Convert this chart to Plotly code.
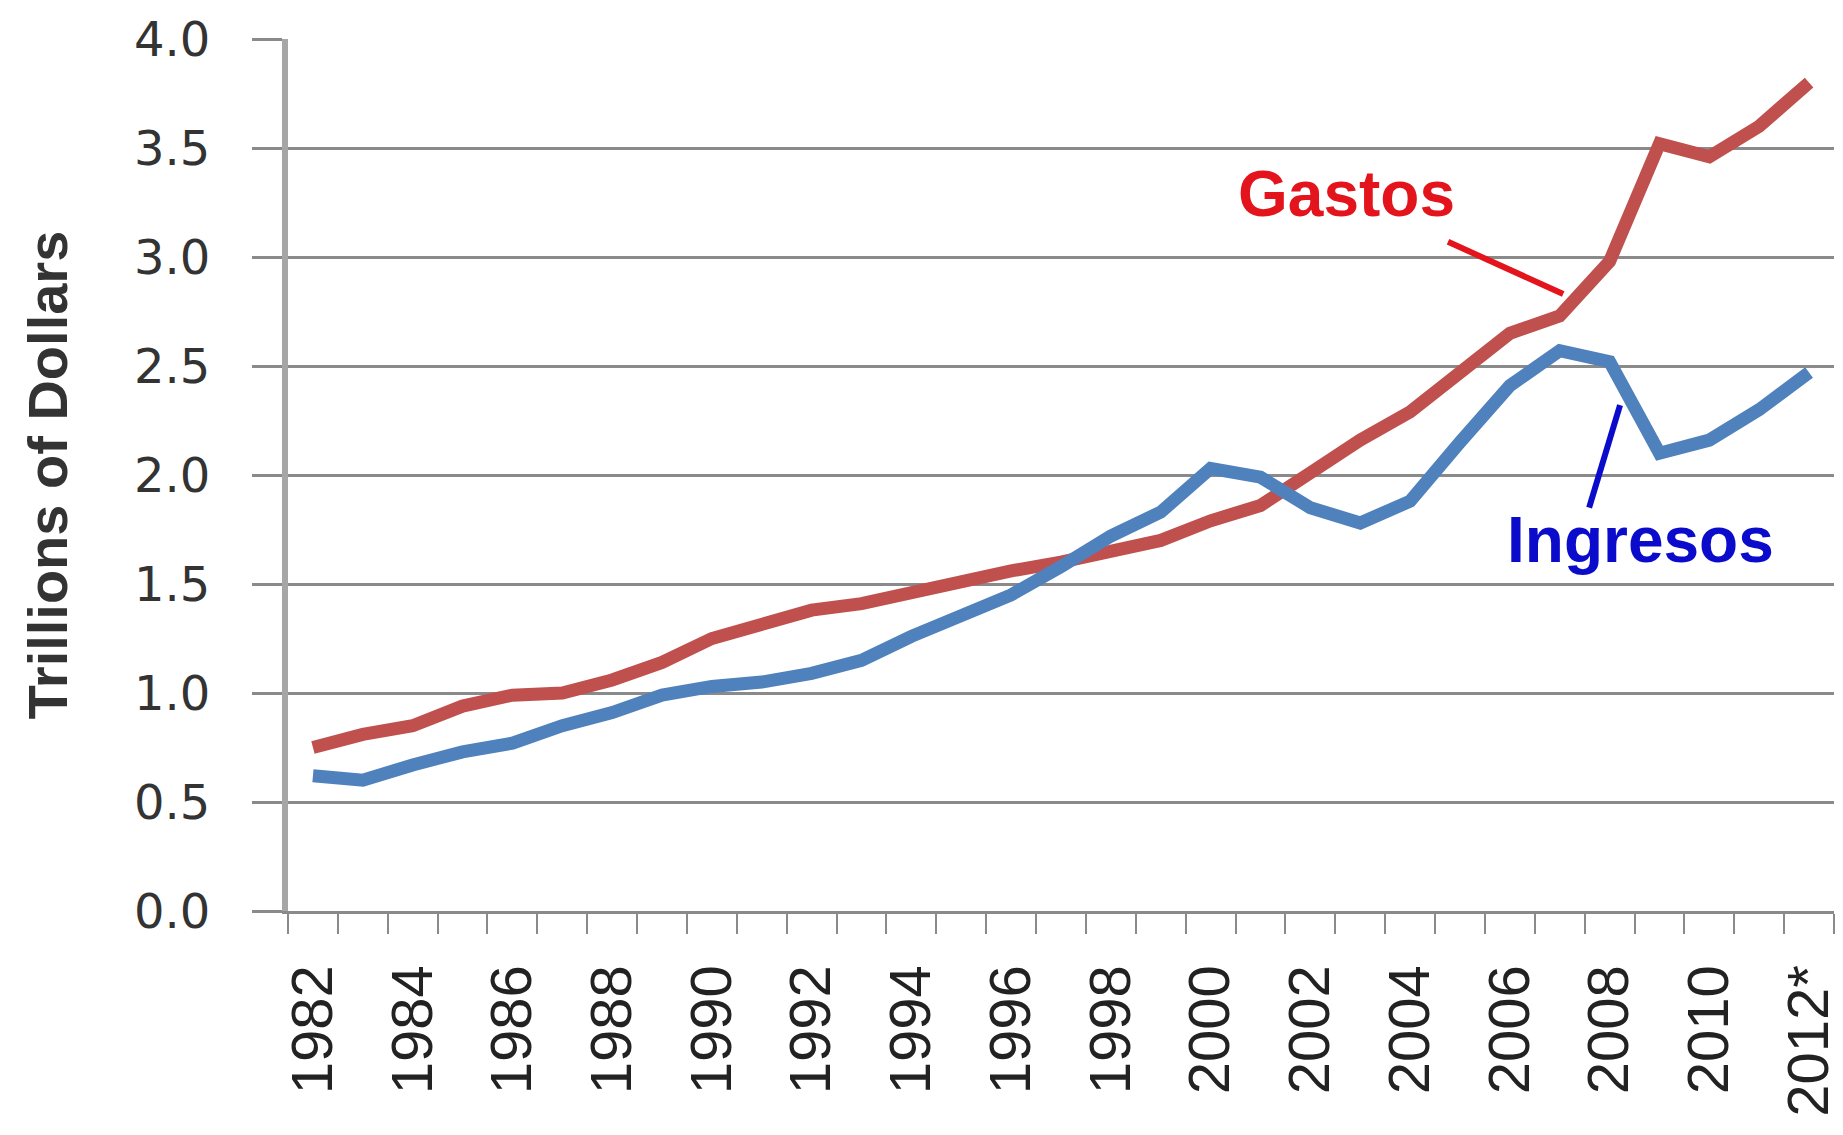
import plotly.graph_objects as go

years = list(range(1982, 2013))
gastos = [0.75, 0.81, 0.85, 0.94, 0.99, 1.00, 1.06, 1.14, 1.25, 1.32, 1.38, 1.41, 1.46, 1.52,
          1.56, 1.60, 1.65, 1.70, 1.79, 1.86, 2.01, 2.16, 2.29, 2.47, 2.65, 2.73, 2.98, 3.52,
          3.46, 3.60, 3.80]
ingresos = [0.62, 0.60, 0.67, 0.73, 0.77, 0.85, 0.91, 0.99, 1.03, 1.05, 1.09, 1.15, 1.26, 1.35,
            1.45, 1.58, 1.72, 1.83, 2.03, 1.99, 1.85, 1.78, 1.88, 2.15, 2.41, 2.57, 2.52, 2.10,
            2.16, 2.30, 2.47]
tick_years = list(range(1982, 2013, 2))
tick_text = [str(y) for y in tick_years[:-1]] + ["2012*"]
y_ticks = [0, 0.5, 1.0, 1.5, 2.0, 2.5, 3.0, 3.5, 4.0]

# annotation labels and pointer segments (data coordinates)
label_gastos = ("Gastos", 2002.73, 3.29)
label_ingresos = ("Ingresos", 2008.61, 1.70)
ptr_gastos = (2004.76, 3.07, 2007.07, 2.83)
ptr_ingresos = (2007.59, 1.85, 2008.21, 2.32)

RED_LINE = "#C0504D"
BLUE_LINE = "#4F81BD"
GRID = "#8a8a8a"

fig = go.Figure()
fig.add_trace(go.Scatter(x=years, y=gastos, mode="lines",
                         line=dict(color=RED_LINE, width=13), name="Gastos"))
fig.add_trace(go.Scatter(x=years, y=ingresos, mode="lines",
                         line=dict(color=BLUE_LINE, width=13), name="Ingresos"))

fig.update_layout(
    width=1835, height=1119,
    margin=dict(l=280, r=9, t=31, b=216),
    paper_bgcolor="white", plot_bgcolor="white",
    showlegend=False,
    xaxis=dict(
        range=[1981.5, 2012.5], automargin=False,
        tickmode="array", tickvals=tick_years, ticktext=tick_text,
        tickangle=-90, ticks="", showgrid=False, zeroline=False,
        showline=True, linecolor=GRID, linewidth=3,
        tickfont=dict(family="Liberation Sans", size=58, color="#222222"),
        ticklabelstandoff=28,
        minor=dict(tickmode="array", tickvals=[y - 0.5 for y in years] + [2012.5],
                   ticks="outside", ticklen=20, tickwidth=2, tickcolor=GRID, showgrid=False),
    ),
    yaxis=dict(
        range=[0, 4], automargin=False, tickmode="array", tickvals=y_ticks,
        ticktext=[f"{v:.1f}" for v in y_ticks],
        showgrid=True, gridcolor=GRID, gridwidth=3, zeroline=False,
        showline=True, linecolor="#a6a6a6", linewidth=6,
        ticks="outside", ticklen=30, tickwidth=3, tickcolor=GRID,
        tickfont=dict(family="DejaVu Sans", size=48, color="#333333"),
        ticklabelstandoff=32,
        title=dict(text="<b>Trillions of Dollars</b>", standoff=50,
                   font=dict(family="Liberation Sans", size=56, color="#333333")),
    ),
)

for (txt, x, y), col in [(label_gastos, "#E3141C"), (label_ingresos, "#0B0BCC")]:
    fig.add_annotation(x=x, y=y, text=f"<b>{txt}</b>", showarrow=False,
                       font=dict(family="Liberation Sans", size=64, color=col),
                       xanchor="center", yanchor="middle")

for (x0, y0, x1, y1), col in [(ptr_gastos, "#E3141C"), (ptr_ingresos, "#0B0BCC")]:
    fig.add_shape(type="line", xref="x", yref="y", x0=x0, y0=y0, x1=x1, y1=y1,
                  line=dict(color=col, width=6))

fig.write_html("out.html")
